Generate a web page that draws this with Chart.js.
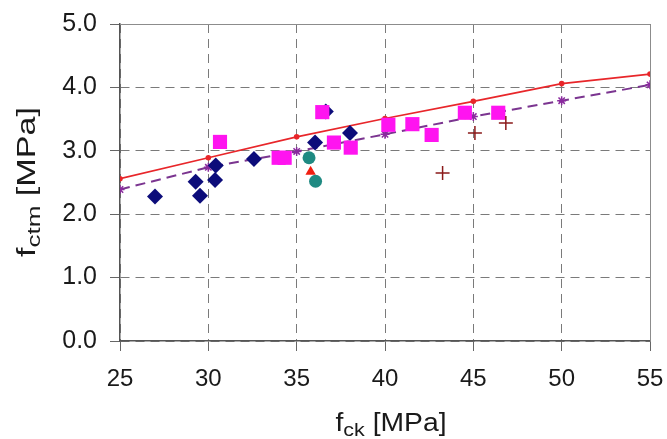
<!DOCTYPE html>
<html>
<head>
<meta charset="utf-8">
<script src="https://cdn.jsdelivr.net/npm/chart.js@4/dist/chart.umd.min.js"></script>
<style>
html,body{margin:0;padding:0;background:#fff;}
#wrap{width:667px;height:439px;position:relative;}
</style>
</head>
<body>
<div id="wrap"><canvas id="c" width="667" height="439"></canvas></div>
<script>
// ---- data ----
const curveX = [25, 30, 35, 40, 45, 50, 55];
const redCurveY = [2.56, 2.89, 3.22, 3.51, 3.78, 4.06, 4.21];
const purpleCurveY = [2.39, 2.74, 2.99, 3.26, 3.54, 3.79, 4.04];

const diamondX = [26.98, 29.28, 29.53, 30.42, 30.38, 32.58, 36.04, 36.65, 38.02];
const diamondY = [2.28, 2.51, 2.29, 2.77, 2.54, 2.87, 3.13, 3.62, 3.28];

const squareX = [30.66, 33.98, 34.32, 36.45, 37.11, 38.06, 40.19, 41.55, 42.64, 44.52, 46.41];
const squareY = [3.14, 2.89, 2.89, 3.61, 3.13, 3.05, 3.41, 3.42, 3.25, 3.60, 3.60];

const circleX = [35.70, 36.07];
const circleY = [2.89, 2.52];

const triangleX = [35.79];
const triangleY = [2.67];

const crossX = [43.26, 45.09, 46.84];
const crossY = [2.65, 3.28, 3.44];

const xTickValues = [25, 30, 35, 40, 45, 50, 55];
const yTickValues = [0, 1, 2, 3, 4, 5];

function pts(xs, ys) { return xs.map((x, i) => ({ x: x, y: ys[i] })); }

const FONT = '"Liberation Sans", Arial, sans-serif';
const TXT = '#1a1a1a';

const frameAndTitles = {
  id: 'frameAndTitles',
  beforeDatasetsDraw(chart) {
    const { ctx, chartArea: a } = chart;
    ctx.save();
    ctx.strokeStyle = '#8c8c8c';
    ctx.lineWidth = 1;
    ctx.beginPath();
    ctx.moveTo(a.left, a.top + 0.5);
    ctx.lineTo(a.right + 0.5, a.top + 0.5);
    ctx.lineTo(a.right + 0.5, a.bottom);
    ctx.stroke();
    ctx.restore();
  },
  afterDraw(chart) {
    const { ctx } = chart;
    function widthOf(parts) {
      let w = 0;
      parts.forEach(p => { ctx.font = p[1] + 'px ' + FONT; w += ctx.measureText(p[0]).width; });
      return w;
    }
    function drawParts(parts, x, y) {
      let cx = x;
      parts.forEach(p => {
        ctx.font = p[1] + 'px ' + FONT;
        ctx.fillText(p[0], cx, y + p[2]);
        cx += ctx.measureText(p[0]).width;
      });
    }
    ctx.save();
    ctx.fillStyle = TXT;
    ctx.textBaseline = 'alphabetic';
    ctx.textAlign = 'left';
    // x title
    const xp = [['f', 25, 0], ['ck', 19, 5], [' [MPa]', 25, 0]];
    const xw = widthOf(xp);
    ctx.save();
    ctx.translate(391, 431);
    ctx.scale(111 / xw, 1);
    drawParts(xp, -xw / 2, 0);
    ctx.restore();
    // y title (rotated)
    const yp = [['f', 25, 0], ['ctm', 19, 5], [' [MPa]', 25, 0]];
    const yw = widthOf(yp);
    ctx.save();
    ctx.translate(35, 182);
    ctx.rotate(-Math.PI / 2);
    ctx.scale(150 / yw, 1);
    drawParts(yp, -yw / 2, 0);
    ctx.restore();
    ctx.restore();
  }
};

const gridCommon = {
  color: '#7a7a7a',
  lineWidth: 1,
  tickLength: 10,
  tickColor: '#666666',
  tickBorderDash: [],
  drawTicks: true
};
const borderCommon = { display: true, color: '#555555', width: 1.5, dash: [9, 6] };

new Chart(document.getElementById('c'), {
  type: 'scatter',
  data: {
    datasets: [
      {
        label: 'red curve', data: pts(curveX, redCurveY), showLine: true,
        borderColor: '#e8262a', backgroundColor: '#e8262a', borderWidth: 1.6,
        pointRadius: 2, pointStyle: 'circle', order: 10
      },
      {
        label: 'purple curve', data: pts(curveX, purpleCurveY), showLine: true,
        borderColor: '#7b3590', backgroundColor: '#7b3590', borderWidth: 2,
        borderDash: [10, 6], pointStyle: 'star', pointRadius: 4.5,
        pointBorderColor: '#8a2a9e', pointBorderWidth: 1.5, order: 9
      },
      {
        label: 'diamonds', data: pts(diamondX, diamondY), pointStyle: 'rectRot',
        pointRadius: 8, backgroundColor: '#0c0c7a', borderColor: '#0c0c7a', borderWidth: 0, order: 5
      },
      {
        label: 'squares', data: pts(squareX, squareY), pointStyle: 'rect',
        pointRadius: 10, backgroundColor: '#ff14f0', borderColor: '#ff14f0', borderWidth: 0, order: 4
      },
      {
        label: 'triangle', data: pts(triangleX, triangleY), pointStyle: 'triangle',
        pointRadius: 6, backgroundColor: '#f01e10', borderColor: '#f01e10', borderWidth: 0, order: 3
      },
      {
        label: 'circles', data: pts(circleX, circleY), pointStyle: 'circle',
        pointRadius: 6.5, backgroundColor: '#1f8a82', borderColor: '#1f8a82', borderWidth: 0, order: 2
      },
      {
        label: 'crosses', data: pts(crossX, crossY), pointStyle: 'cross',
        pointRadius: 7, backgroundColor: '#8b1a1a', borderColor: '#8b1a1a', borderWidth: 1.5, order: 1
      }
    ]
  },
  options: {
    responsive: false,
    animation: false,
    events: [],
    layout: { padding: { top: 24, right: 17, left: 0, bottom: 0 } },
    plugins: { legend: { display: false }, tooltip: { enabled: false } },
    scales: {
      x: {
        type: 'linear', min: 25, max: 55,
        afterBuildTicks(s) { s.ticks = xTickValues.map(v => ({ value: v })); },
        afterFit(s) { s.height = 98; s.paddingLeft = 0; s.paddingRight = 0; },
        grid: gridCommon,
        border: borderCommon,
        ticks: { padding: 14, color: TXT, font: { family: FONT, size: 24 }, maxRotation: 0,
          callback: v => String(v) }
      },
      y: {
        type: 'linear', min: 0, max: 5,
        afterBuildTicks(s) { s.ticks = yTickValues.map(v => ({ value: v })); },
        afterFit(s) { s.width = 120; s.paddingTop = 0; s.paddingBottom = 0; },
        grid: gridCommon,
        border: borderCommon,
        ticks: { padding: 13, color: TXT, font: { family: FONT, size: 25 },
          callback: v => Number(v).toFixed(1) }
      }
    }
  },
  plugins: [frameAndTitles]
});
</script>
</body>
</html>
